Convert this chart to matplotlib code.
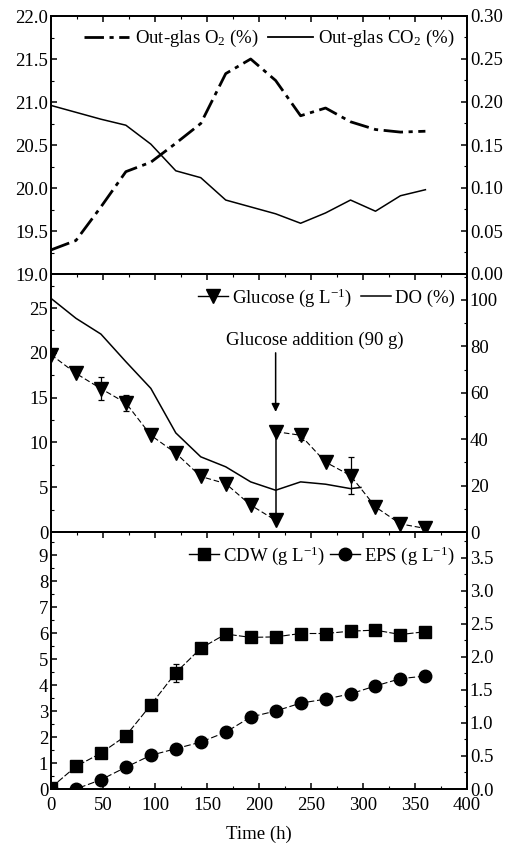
import matplotlib
matplotlib.use('Agg')
import matplotlib.pyplot as plt
from matplotlib.lines import Line2D
from matplotlib.ticker import MultipleLocator, FormatStrFormatter

plt.rcParams['font.family'] = ['Liberation Serif', 'DejaVu Serif']
plt.rcParams['mathtext.fontset'] = 'custom'
plt.rcParams['mathtext.rm'] = 'Liberation Serif'
plt.rcParams['mathtext.it'] = 'Liberation Serif:italic'
plt.rcParams['font.size'] = 13.5

# Tiempo de muestreo (h)
time_h = [0, 24, 48, 72, 96, 120, 144, 168, 192, 216, 240, 264, 288, 312, 336, 360]

# Panel 1: gases de salida
o2_pct = [19.28, 19.39, 19.78, 20.19, 20.30, 20.52, 20.75, 21.33, 21.50, 21.25,
          20.84, 20.93, 20.77, 20.68, 20.65, 20.66]
co2_pct = [0.196, 0.188, 0.180, 0.173, 0.151, 0.120, 0.112, 0.086, 0.078, 0.070,
           0.059, 0.071, 0.086, 0.073, 0.091, 0.098]

# Panel 2: glucosa y oxígeno disuelto
glc_t_before = [0, 24, 48, 72, 96, 120, 144, 168, 192, 216]
glc_before = [19.8, 17.7, 16.0, 14.4, 10.8, 8.8, 6.2, 5.4, 3.0, 1.3]
glc_t_after = [216, 240, 264, 288, 312, 336, 360]
glc_after = [11.2, 10.8, 7.8, 6.3, 2.8, 0.9, 0.4]
glc_err_t = [48, 72, 240, 288]
glc_err_v = [16.0, 14.4, 10.8, 6.3]
glc_err = [1.3, 0.9, 0.5, 2.1]
do_t = [0, 24, 48, 72, 96, 120, 144, 168, 192, 216, 240, 264, 288, 298]
do_pct = [100.7, 92.1, 85.3, 73.4, 61.9, 42.7, 32.4, 28.1, 21.6, 18.0, 21.6, 20.6, 18.7, 19.2]
t_addition = 216
arrow_from, arrow_to = 20.0, 13.4

# Panel 3: biomasa y EPS
cdw = [0.05, 0.87, 1.38, 2.05, 3.24, 4.48, 5.42, 5.97, 5.84, 5.86, 5.99, 5.99,
       6.08, 6.12, 5.95, 6.06]
cdw_err_t = [96, 120, 144]
cdw_err_v = [3.24, 4.48, 5.42]
cdw_err = [0.15, 0.35, 0.15]
eps = [0.0, 0.0, 0.14, 0.33, 0.51, 0.61, 0.71, 0.86, 1.09, 1.18, 1.30, 1.36,
       1.44, 1.56, 1.67, 1.71]

fig = plt.figure(figsize=(5.13, 8.46), dpi=100)
left, width = 51 / 513, (467 - 51) / 513
ax1 = fig.add_axes([left, 1 - 274 / 846, width, 258 / 846])
ax2 = fig.add_axes([left, 1 - 532 / 846, width, 258 / 846])
ax3 = fig.add_axes([left, 1 - 789 / 846, width, 257 / 846])
ax1r, ax2r, ax3r = ax1.twinx(), ax2.twinx(), ax3.twinx()


def style_pair(ax, axr, bottom_labels):
    for a in (ax, axr):
        for s in a.spines.values():
            s.set_linewidth(1.3)
    ax.set_xlim(0, 400)
    ax.xaxis.set_major_locator(MultipleLocator(50))
    ax.xaxis.set_minor_locator(MultipleLocator(25))
    ax.tick_params(which='both', direction='in', top=True, bottom=bottom_labels,
                   right=False, labelbottom=bottom_labels)
    ax.tick_params(which='major', length=4, width=1.1)
    ax.tick_params(which='minor', length=2, width=0.8)
    axr.tick_params(which='both', direction='in', right=True, left=False,
                    top=False, bottom=False)
    axr.tick_params(which='major', length=4, width=1.1)
    axr.tick_params(which='minor', length=2, width=0.8)


style_pair(ax1, ax1r, False)
style_pair(ax2, ax2r, False)
style_pair(ax3, ax3r, True)

# --- Panel 1 ---
o2_style = (0, (7, 2, 1.5, 2))
ax1.plot(time_h, o2_pct, color='black', lw=2.0, ls=o2_style)
ax1r.plot(time_h, co2_pct, color='black', lw=1.1)
ax1.set_ylim(19.0, 22.0)
ax1.yaxis.set_major_locator(MultipleLocator(0.5))
ax1.yaxis.set_minor_locator(MultipleLocator(0.25))
ax1.yaxis.set_major_formatter(FormatStrFormatter('%.1f'))
ax1r.set_ylim(0, 0.30)
ax1r.yaxis.set_major_locator(MultipleLocator(0.05))
ax1r.yaxis.set_minor_locator(MultipleLocator(0.025))
ax1r.yaxis.set_major_formatter(FormatStrFormatter('%.2f'))
h1 = [Line2D([], [], color='black', lw=2.0, ls=o2_style),
      Line2D([], [], color='black', lw=1.3)]
ax1r.legend(h1, ['Out-glas O$_2$ (%)', 'Out-glas CO$_2$ (%)'], ncol=2, frameon=False,
            loc='upper right', bbox_to_anchor=(1.0, 1.0), handlelength=2.4,
            handletextpad=0.3, columnspacing=0.5, borderaxespad=0.25)

# --- Panel 2 ---
dash = (0, (5, 2.5))
ax2.plot(glc_t_before, glc_before, color='black', lw=0.8, ls=dash, marker='v',
         ms=10, zorder=3)
ax2.plot(glc_t_after, glc_after, color='black', lw=0.8, ls=dash, marker='v',
         ms=10, zorder=3)
ax2.plot([t_addition, t_addition], [glc_before[-1], glc_after[0]], color='black', lw=1.1)
ax2.errorbar(glc_err_t, glc_err_v, yerr=glc_err, fmt='none', ecolor='black',
             elinewidth=0.9, capsize=2.5, capthick=0.9)
ax2r.plot(do_t, do_pct, color='black', lw=1.1)
ax2.set_ylim(0, 28.8)
ax2.yaxis.set_major_locator(MultipleLocator(5))
ax2.yaxis.set_minor_locator(MultipleLocator(2.5))
ax2r.set_ylim(0, 111.2)
ax2r.yaxis.set_major_locator(MultipleLocator(20))
ax2r.yaxis.set_minor_locator(MultipleLocator(10))
ax2.text(254, 21.4, 'Glucose addition (90 g)', ha='center', va='center')
ax2.annotate('', xy=(t_addition, arrow_to), xytext=(t_addition, arrow_from),
             arrowprops=dict(arrowstyle='-|>', color='black', lw=1.1,
                             shrinkA=0, shrinkB=0, mutation_scale=12))
h2 = [Line2D([], [], color='black', lw=1.0, marker='v', ms=10),
      Line2D([], [], color='black', lw=1.1)]
ax2r.legend(h2, ['Glucose (g L$^{-1}$)', 'DO (%)'], ncol=2, frameon=False,
            loc='upper right', bbox_to_anchor=(1.0, 1.0), handlelength=1.6,
            handletextpad=0.2, columnspacing=0.5, borderaxespad=0.25)

# --- Panel 3 ---
ax3.plot(time_h, cdw, color='black', lw=0.8, ls=(0, (6, 2)), marker='s', ms=8, zorder=3)
ax3.errorbar(cdw_err_t, cdw_err_v, yerr=cdw_err, fmt='none', ecolor='black',
             elinewidth=0.9, capsize=2.5, capthick=0.9)
ax3r.plot(time_h, eps, color='black', lw=0.8, ls=(0, (6, 2.5)), marker='o', ms=9,
          zorder=3)
ax3.set_ylim(0, 9.9)
ax3.yaxis.set_major_locator(MultipleLocator(1))
ax3.yaxis.set_minor_locator(MultipleLocator(0.5))
ax3r.set_ylim(0, 3.89)
ax3r.yaxis.set_major_locator(MultipleLocator(0.5))
ax3r.yaxis.set_minor_locator(MultipleLocator(0.25))
ax3r.yaxis.set_major_formatter(FormatStrFormatter('%.1f'))
ax3.set_xlabel('Time (h)', labelpad=8)
h3 = [Line2D([], [], color='black', lw=1.0, marker='s', ms=8),
      Line2D([], [], color='black', lw=1.0, marker='o', ms=9)]
ax3r.legend(h3, ['CDW (g L$^{-1}$)', 'EPS (g L$^{-1}$)'], ncol=2, frameon=False,
            loc='upper right', bbox_to_anchor=(1.0, 1.0), handlelength=1.6,
            handletextpad=0.2, columnspacing=0.3, borderaxespad=0.25)

for a in (ax1, ax2, ax3, ax1r, ax2r, ax3r):
    a.tick_params(labelsize=13.5, pad=2)
ax3.tick_params(axis='x', pad=6)

fig.savefig('out.png', dpi=100)
